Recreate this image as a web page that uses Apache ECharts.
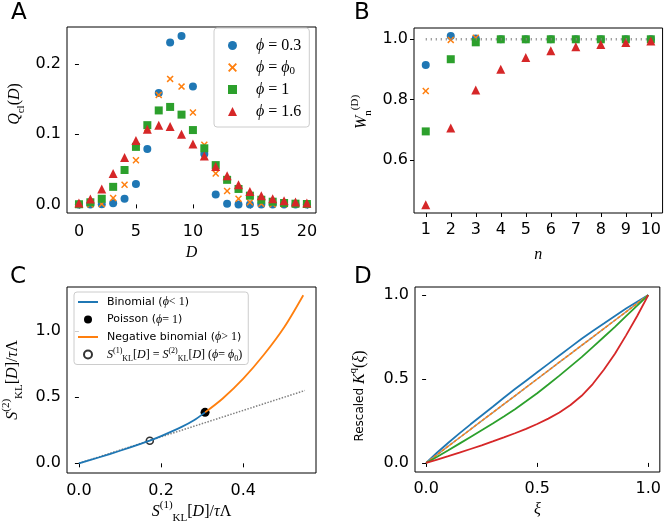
<!DOCTYPE html>
<html>
<head>
<meta charset="utf-8">
<script src="https://cdn.jsdelivr.net/npm/echarts@6/dist/echarts.min.js"></script>
<style>
  html, body { margin: 0; padding: 0; background: #fff; }
  #main { width: 664px; height: 528px; }
</style>
</head>
<body>
<div id="main"></div>
<script>
// ---------------- data ----------------
// A: Q_cl(D)
const dVals = [0, 1, 2, 3, 4, 5, 6, 7, 8, 9, 10, 11, 12, 13, 14, 15, 16, 17, 18, 19, 20];
const qPhi03 = [0, 0, 0.0002, 0.0015, 0.008, 0.029, 0.079, 0.159, 0.231, 0.240, 0.168, 0.072, 0.014, 0.001, 0, 0, 0, 0, 0, 0, 0];
const qPhi0 = [0, 0, 0.0005, 0.009, 0.028, 0.063, 0.109, 0.156, 0.179, 0.168, 0.131, 0.085, 0.044, 0.019, 0.008, 0.003, 0.001, 0.0003, 0, 0, 0];
const qPhi1 = [0.0002, 0.003, 0.008, 0.025, 0.049, 0.082, 0.113, 0.134, 0.139, 0.128, 0.106, 0.080, 0.056, 0.035, 0.022, 0.0124, 0.0066, 0.0038, 0.002, 0.001, 0.0005];
const qPhi16 = [0.002, 0.0076, 0.022, 0.044, 0.067, 0.091, 0.107, 0.113, 0.111, 0.100, 0.086, 0.069, 0.054, 0.041, 0.028, 0.0185, 0.0124, 0.008, 0.005, 0.0035, 0.002];

// B: W_n^(D)
const nVals = [1, 2, 3, 4, 5, 6, 7, 8, 9, 10];
const wPhi03 = [0.915, 1.011, 1.003, 1, 1, 1, 1, 1, 1, 1];
const wPhi0 = [0.829, 0.998, 1.005, 1, 1, 1, 1, 1, 1, 1];
const wPhi1 = [0.695, 0.934, 0.990, 1, 1, 1, 1, 1, 1, 1];
const wPhi16 = [0.452, 0.706, 0.832, 0.901, 0.940, 0.962, 0.975, 0.983, 0.989, 0.994];
const wRefN = [1, 10];
const wRef = [1, 1];

// C: S2 vs S1
const binomX = [0, 0.05, 0.1, 0.15, 0.1725, 0.2, 0.25, 0.28, 0.307];
const binomY = [0, 0.046, 0.095, 0.147, 0.171, 0.205, 0.275, 0.325, 0.385];
const negBinX = [0.307, 0.35, 0.4, 0.45, 0.5, 0.546];
const negBinY = [0.385, 0.49, 0.64, 0.82, 1.03, 1.27];
const poissonX = [0.307];
const poissonY = [0.385];
const phi0X = [0.1725];
const phi0Y = [0.171];
const diagCX = [0, 0.55];
const diagCY = [0, 0.55];

// D: rescaled K(xi)
const xiVals = [0, 0.05, 0.1, 0.15, 0.2, 0.25, 0.3, 0.35, 0.4, 0.45, 0.5, 0.55, 0.6, 0.65, 0.7, 0.75, 0.8, 0.85, 0.9, 0.95, 1];
const kPhi03 = [0, 0.062, 0.12, 0.176, 0.23, 0.283, 0.335, 0.388, 0.44, 0.49, 0.54, 0.59, 0.64, 0.69, 0.74, 0.786, 0.83, 0.875, 0.92, 0.96, 1];
const kPhi0 = [0, 0.05, 0.1, 0.15, 0.2, 0.25, 0.3, 0.35, 0.4, 0.45, 0.5, 0.55, 0.6, 0.65, 0.7, 0.75, 0.8, 0.85, 0.9, 0.95, 1];
const kPhi1 = [0, 0.037, 0.075, 0.115, 0.155, 0.195, 0.235, 0.277, 0.32, 0.367, 0.415, 0.467, 0.52, 0.575, 0.63, 0.69, 0.75, 0.81, 0.875, 0.937, 1];
const kPhi16 = [0, 0.02, 0.04, 0.061, 0.083, 0.105, 0.128, 0.152, 0.177, 0.203, 0.232, 0.264, 0.30, 0.345, 0.40, 0.47, 0.555, 0.65, 0.76, 0.875, 1];

// tick labels
const ticksAx = [0, 5, 10, 15, 20];
const ticksAy = [0, 0.1, 0.2];
const ticksBx = nVals;
const ticksBy = [0.6, 0.8, 1.0];
const ticksCx = [0, 0.2, 0.4];
const ticksCy = [0, 0.5, 1.0];
const ticksDx = [0, 0.5, 1.0];
const ticksDy = [0, 0.5, 1.0];

// ---------------- styling ----------------
const cBlue = '#1f77b4', cOrange = '#ff7f0e', cGreen = '#2ca02c', cRed = '#d62728';
const tickFont = 'DejaVu Sans';
const mathFont = 'Liberation Serif';
const crossPath = 'path://M0,1.5L1.5,0L5,3.5L8.5,0L10,1.5L6.5,5L10,8.5L8.5,10L5,6.5L1.5,10L0,8.5L3.5,5Z';
const lineIcon = 'path://M0,0H20V2H0Z';

const mathRich = {
    m: { fontFamily: mathFont, fontStyle: 'italic', fontSize: 16, lineHeight: 24, color: '#000' },
    r: { fontFamily: mathFont, fontSize: 16, lineHeight: 24, color: '#000' },
    sb: { fontFamily: mathFont, fontSize: 11, lineHeight: 12, verticalAlign: 'bottom', color: '#000' },
    sp: { fontFamily: mathFont, fontSize: 11, lineHeight: 12, verticalAlign: 'top', color: '#000' },
    t: { fontFamily: tickFont, fontSize: 12, lineHeight: 24, color: '#000' }
};

const legendARich = {
    m: { fontFamily: mathFont, fontStyle: 'italic', fontSize: 16, lineHeight: 19, color: '#000' },
    r: { fontFamily: mathFont, fontSize: 16, lineHeight: 19, color: '#000' },
    sb: { fontFamily: mathFont, fontSize: 11, lineHeight: 9, verticalAlign: 'bottom', color: '#000' }
};

const zip = (xs, ys) => xs.map((x, i) => [x, ys[i]]);

function valueAxis(gridIndex, min, max, ticks, fmt, name, nameGap, margin) {
    return {
        type: 'value',
        gridIndex: gridIndex,
        min: min,
        max: max,
        name: name,
        nameLocation: 'middle',
        nameGap: nameGap,
        nameTextStyle: { rich: mathRich },
        axisLine: { show: false },
        splitLine: { show: false },
        axisTick: {
            show: true,
            inside: false,
            length: 4,
            customValues: ticks,
            lineStyle: { color: '#000', width: 1 }
        },
        axisLabel: {
            customValues: ticks,
            formatter: fmt,
            color: '#000',
            fontSize: 16,
            fontFamily: tickFont,
            margin: margin
        }
    };
}

const f1 = v => Number(v).toFixed(1);
const f0 = v => String(Math.round(v));

function scatter(name, xi, yi, xs, ys, color, symbol, size) {
    return {
        name: name,
        type: 'scatter',
        xAxisIndex: xi,
        yAxisIndex: yi,
        data: zip(xs, ys),
        symbol: symbol,
        symbolSize: size,
        itemStyle: { color: color, opacity: 1 },
        emphasis: { disabled: true }
    };
}

function line(name, xi, yi, xs, ys, color, width, type, smooth) {
    return {
        name: name,
        type: 'line',
        xAxisIndex: xi,
        yAxisIndex: yi,
        data: zip(xs, ys),
        symbol: 'none',
        smooth: smooth,
        lineStyle: { color: color, width: width, type: type },
        itemStyle: { color: color },
        emphasis: { disabled: true },
        silent: true
    };
}

const legendALabels = {
    'phi03': '{m|ϕ}{r| = 0.3}',
    'phi0': '{m|ϕ}{r| = }{m|ϕ}{sb|0}',
    'phi1': '{m|ϕ}{r| = 1}',
    'phi16': '{m|ϕ}{r| = 1.6}'
};

const legendCRich = {
    t: { fontFamily: tickFont, fontSize: 11, lineHeight: 16, color: '#000' },
    m: { fontFamily: mathFont, fontStyle: 'italic', fontSize: 12, lineHeight: 16, color: '#000' },
    r: { fontFamily: mathFont, fontSize: 12, lineHeight: 16, color: '#000' },
    sb: { fontFamily: mathFont, fontSize: 8, lineHeight: 8, verticalAlign: 'bottom', color: '#000' },
    sp: { fontFamily: mathFont, fontSize: 8, lineHeight: 8, verticalAlign: 'top', color: '#000' }
};
const legendCLabels = {
    'binom': '{t|Binomial (}{m|ϕ}{r|< 1}{t|)}',
    'poisson': '{t|Poisson (}{m|ϕ}{r|= 1}{t|)}',
    'negbin': '{t|Negative binomial (}{m|ϕ}{r|> 1}{t|)}',
    'equal': '{m|S}{sp|(1)}{sb|KL}{r|[}{m|D}{r|] = }{m|S}{sp|(2)}{sb|KL}{r|[}{m|D}{r|] (}{m|ϕ}{r|= }{m|ϕ}{sb|0}{r|)}'
};

function panelLetter(text, x, y) {
    return {
        type: 'text',
        x: x,
        y: y,
        style: { text: text, fontFamily: tickFont, fontSize: 23, fill: '#000', verticalAlign: 'top' }
    };
}

// rotated y-axis titles
function yTitle(text, x, y) {
    return {
        type: 'text',
        x: x,
        y: y,
        rotation: Math.PI / 2,
        style: { text: text, rich: mathRich, align: 'center', verticalAlign: 'middle' }
    };
}

var option = {
    animation: false,
    backgroundColor: '#fff',
    grid: [
        { left: 67, top: 27, width: 249, height: 186 },
        { left: 414, top: 28, width: 249, height: 185 },
        { left: 67, top: 287, width: 249, height: 186 },
        { left: 415, top: 287, width: 248, height: 185 }
    ].map(g => Object.assign(g, { show: true, borderColor: '#000', borderWidth: 1, backgroundColor: 'transparent' })),
    xAxis: [
        valueAxis(0, -1.05, 20.8, ticksAx, f0, '{m|D}', 28, 11),
        valueAxis(1, 0.53, 10.47, ticksBx, f0, '{m|n}', 30, 9),
        valueAxis(2, -0.029, 0.577, ticksCx, f1, '{m|S}{sp|(1)}{sb|KL}{r|[}{m|D}{r|]/}{m|τ}{r|Λ}', 27, 10),
        valueAxis(3, -0.05, 1.052, ticksDx, f1, '{m|ξ}', 26, 9)
    ],
    yAxis: [
        valueAxis(0, -0.0123, 0.253, ticksAy, f1, '', 40, 6),
        valueAxis(1, 0.4248, 1.0374, ticksBy, f1, '', 40, 6),
        valueAxis(2, -0.073, 1.332, ticksCy, f1, '', 42, 6),
        valueAxis(3, -0.054, 1.048, ticksDy, f1, '', 43, 6)
    ],
    legend: [
        {
            data: ['phi03', 'phi0', 'phi1', 'phi16'],
            orient: 'vertical',
            left: 214,
            top: 28,
            padding: [8, 8, 6, 14],
            itemGap: 3,
            itemWidth: 9,
            itemHeight: 9,
            backgroundColor: 'rgba(255,255,255,0.8)',
            borderColor: '#cccccc',
            borderWidth: 1,
            borderRadius: 3,
            selectedMode: false,
            formatter: name => legendALabels[name],
            textStyle: { rich: legendARich, lineHeight: 19, padding: [0, 0, 0, 14] }
        },
        {
            data: [
                { name: 'binom', icon: lineIcon },
                { name: 'poisson' },
                { name: 'negbin', icon: lineIcon },
                { name: 'equal' }
            ],
            orient: 'vertical',
            left: 74,
            top: 292,
            padding: [2, 6, 2, 4],
            itemGap: 1.5,
            itemWidth: 20,
            itemHeight: 8,
            backgroundColor: 'rgba(255,255,255,0.8)',
            borderColor: '#cccccc',
            borderWidth: 1,
            borderRadius: 3,
            selectedMode: false,
            formatter: name => legendCLabels[name],
            textStyle: { rich: legendCRich, lineHeight: 16, padding: [0, 0, 0, 4] }
        }
    ],
    graphic: [
        panelLetter('A', 11, 2),
        panelLetter('B', 354, 2),
        panelLetter('C', 10, 266),
        panelLetter('D', 354, 266),
        yTitle('{m|Q}{sb|cl}{r|(}{m|D}{r|)}', 15, 104),
        yTitle('{m|W}{sb|n}{sp|(D)}', 362, 112),
        yTitle('{m|S}{sp|(2)}{sb|KL}{r|[}{m|D}{r|]/}{m|τ}{r|Λ}', 13, 380),
        yTitle('{t|Rescaled }{m|K}{sp|q}{r|(}{m|ξ}{r|)}', 360, 396)
    ],
    series: [
        // A
        scatter('phi03', 0, 0, dVals, qPhi03, cBlue, 'circle', 8),
        scatter('phi0', 0, 0, dVals, qPhi0, cOrange, crossPath, 7),
        scatter('phi1', 0, 0, dVals, qPhi1, cGreen, 'rect', 8),
        scatter('phi16', 0, 0, dVals, qPhi16, cRed, 'triangle', 9),
        // B
        line('wref', 1, 1, wRefN, wRef, '#808080', 2.5, [1, 4], false),
        scatter('w03', 1, 1, nVals, wPhi03, cBlue, 'circle', 8),
        scatter('w0', 1, 1, nVals, wPhi0, cOrange, crossPath, 7),
        scatter('w1', 1, 1, nVals, wPhi1, cGreen, 'rect', 8),
        scatter('w16', 1, 1, nVals, wPhi16, cRed, 'triangle', 9),
        // C
        line('diagC', 2, 2, diagCX, diagCY, '#808080', 1.5, 'dotted', false),
        line('binom', 2, 2, binomX, binomY, cBlue, 1.8, 'solid', 0.3),
        line('negbin', 2, 2, negBinX, negBinY, cOrange, 1.8, 'solid', 0.3),
        scatter('poisson', 2, 2, poissonX, poissonY, '#000', 'circle', 9),
        {
            name: 'equal',
            type: 'scatter',
            xAxisIndex: 2,
            yAxisIndex: 2,
            data: zip(phi0X, phi0Y),
            symbol: 'circle',
            symbolSize: 7,
            itemStyle: { color: '#fff', borderColor: '#000', borderWidth: 1.6 },
            emphasis: { disabled: true }
        },
        // D
        line('k03', 3, 3, xiVals, kPhi03, cBlue, 1.8, 'solid', false),
        line('kdiag', 3, 3, xiVals, kPhi0, '#999999', 1.5, 'solid', false),
        line('k0', 3, 3, xiVals, kPhi0, cOrange, 1.5, [3, 2], false),
        line('k1', 3, 3, xiVals, kPhi1, cGreen, 1.8, 'solid', false),
        line('k16', 3, 3, xiVals, kPhi16, cRed, 1.8, 'solid', false)
    ]
};

var myChart = echarts.init(document.getElementById('main'), null, { renderer: 'canvas' });
myChart.setOption(option);
</script>
</body>
</html>
